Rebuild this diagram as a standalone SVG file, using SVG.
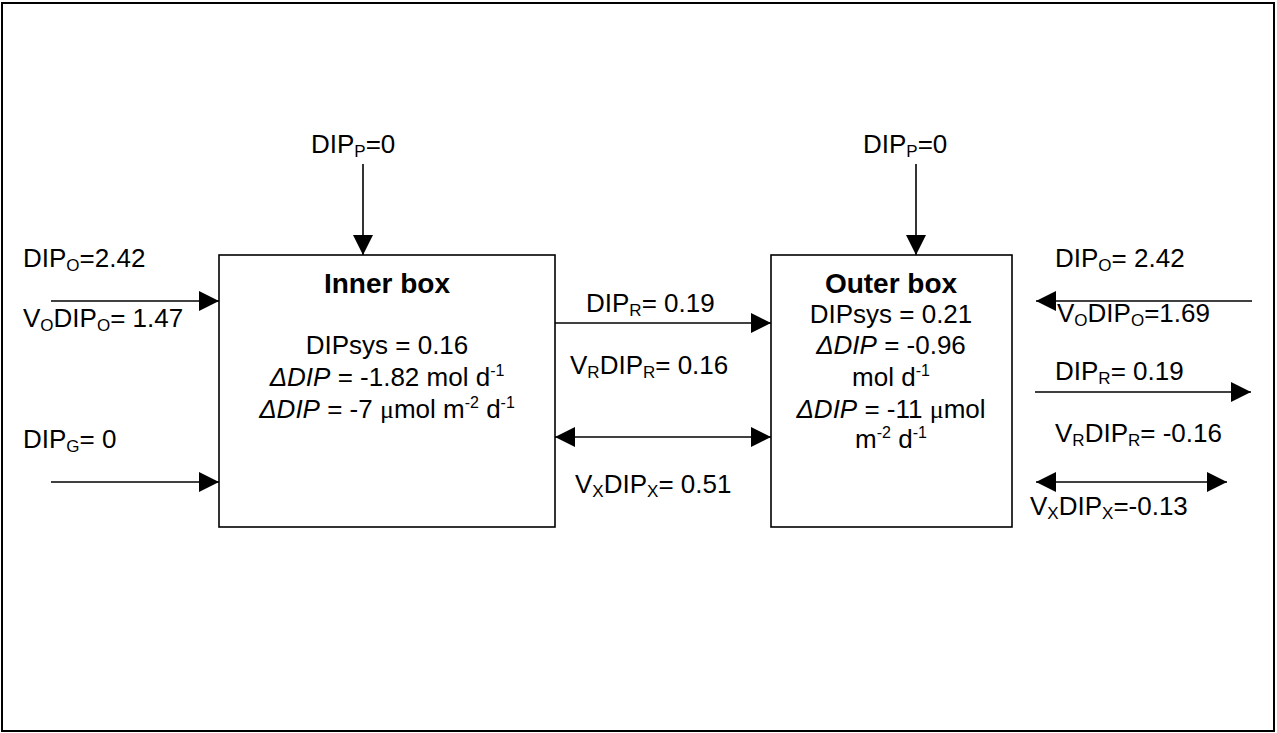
<svg xmlns="http://www.w3.org/2000/svg" width="1277" height="733" viewBox="0 0 1277 733">
<defs>
<marker id="ah" viewBox="0 0 20 20" refX="20" refY="10" markerWidth="20" markerHeight="20" markerUnits="userSpaceOnUse" orient="auto-start-reverse">
<path d="M0,0 L20,10 L0,20 Z" fill="#000"/>
</marker>
<style>
text{font-family:"Liberation Sans",Arial,sans-serif;font-size:26px;fill:#000}
.b{font-weight:bold;font-size:28px}
.c{text-anchor:middle}
.i{font-style:italic}
.mu{font-family:"Liberation Serif","Times New Roman",serif}
.box{fill:#fff;stroke:#000;stroke-width:1.6}
.ln{stroke:#000;stroke-width:1.6;fill:none}
</style>
</defs>
<rect x="2" y="3" width="1272" height="728" fill="#fff" stroke="#000" stroke-width="2"/>
<g id="inner-box">
<rect class="box" x="219" y="255" width="336" height="272"/>
<text class="b c" x="387" y="293">Inner box</text>
<text class="c" x="387" y="354">DIPsys = 0.16</text>
<text class="c" x="387" y="386"><tspan class="i">ΔDIP</tspan> = -1.82 mol d<tspan font-size="16" dy="-10">-1</tspan></text>
<text class="c" x="387" y="418"><tspan class="i">ΔDIP</tspan> = -7 <tspan class="mu">μ</tspan>mol m<tspan font-size="16" dy="-10">-2</tspan><tspan dy="10"> d</tspan><tspan font-size="16" dy="-10">-1</tspan></text>
</g>
<g id="outer-box">
<rect class="box" x="771" y="255" width="241" height="272"/>
<text class="b c" x="891" y="293">Outer box</text>
<text class="c" x="891" y="323">DIPsys = 0.21</text>
<text class="c" x="891" y="354"><tspan class="i">ΔDIP</tspan> = -0.96</text>
<text class="c" x="891" y="386">mol d<tspan font-size="16" dy="-10">-1</tspan></text>
<text class="c" x="891" y="418"><tspan class="i">ΔDIP</tspan> = -11 <tspan class="mu">μ</tspan>mol</text>
<text class="c" x="891" y="448">m<tspan font-size="16" dy="-10">-2</tspan><tspan dy="10"> d</tspan><tspan font-size="16" dy="-10">-1</tspan></text>
</g>
<g id="connectors">
<line class="ln" x1="363" y1="164" x2="363" y2="255" marker-end="url(#ah)"/>
<line class="ln" x1="916" y1="164" x2="916" y2="255" marker-end="url(#ah)"/>
<line class="ln" x1="51" y1="301" x2="219" y2="301" marker-end="url(#ah)"/>
<line class="ln" x1="51" y1="482" x2="219" y2="482" marker-end="url(#ah)"/>
<line class="ln" x1="555" y1="323" x2="771" y2="323" marker-end="url(#ah)"/>
<line class="ln" x1="555" y1="437" x2="771" y2="437" marker-start="url(#ah)" marker-end="url(#ah)"/>
<line class="ln" x1="1252" y1="301" x2="1036" y2="301" marker-end="url(#ah)"/>
<line class="ln" x1="1035" y1="392" x2="1251" y2="392" marker-end="url(#ah)"/>
<line class="ln" x1="1036" y1="482" x2="1227" y2="482" marker-start="url(#ah)" marker-end="url(#ah)"/>
</g>
<g id="labels">
<text x="311" y="153">DIP<tspan font-size="17" dy="4">P</tspan><tspan dy="-4">=0</tspan></text>
<text x="863" y="153">DIP<tspan font-size="17" dy="4">P</tspan><tspan dy="-4">=0</tspan></text>
<text x="23" y="267">DIP<tspan font-size="17" dy="4">O</tspan><tspan dy="-4">=2.42</tspan></text>
<text x="23" y="327">V<tspan font-size="17" dy="4">O</tspan><tspan dy="-4">DIP</tspan><tspan font-size="17" dy="4">O</tspan><tspan dy="-4">= 1.47</tspan></text>
<text x="23" y="448">DIP<tspan font-size="17" dy="4">G</tspan><tspan dy="-4">= 0</tspan></text>
<text x="586" y="312">DIP<tspan font-size="17" dy="4">R</tspan><tspan dy="-4">= 0.19</tspan></text>
<text x="570" y="374">V<tspan font-size="17" dy="4">R</tspan><tspan dy="-4">DIP</tspan><tspan font-size="17" dy="4">R</tspan><tspan dy="-4">= 0.16</tspan></text>
<text x="575" y="493">V<tspan font-size="17" dy="4">X</tspan><tspan dy="-4">DIP</tspan><tspan font-size="17" dy="4">X</tspan><tspan dy="-4">= 0.51</tspan></text>
<text x="1055" y="267">DIP<tspan font-size="17" dy="4">O</tspan><tspan dy="-4">= 2.42</tspan></text>
<text x="1057" y="322">V<tspan font-size="17" dy="4">O</tspan><tspan dy="-4">DIP</tspan><tspan font-size="17" dy="4">O</tspan><tspan dy="-4">=1.69</tspan></text>
<text x="1055" y="380">DIP<tspan font-size="17" dy="4">R</tspan><tspan dy="-4">= 0.19</tspan></text>
<text x="1055" y="442">V<tspan font-size="17" dy="4">R</tspan><tspan dy="-4">DIP</tspan><tspan font-size="17" dy="4">R</tspan><tspan dy="-4">= -0.16</tspan></text>
<text x="1030" y="515">V<tspan font-size="17" dy="4">X</tspan><tspan dy="-4">DIP</tspan><tspan font-size="17" dy="4">X</tspan><tspan dy="-4">=-0.13</tspan></text>
</g>
</svg>
